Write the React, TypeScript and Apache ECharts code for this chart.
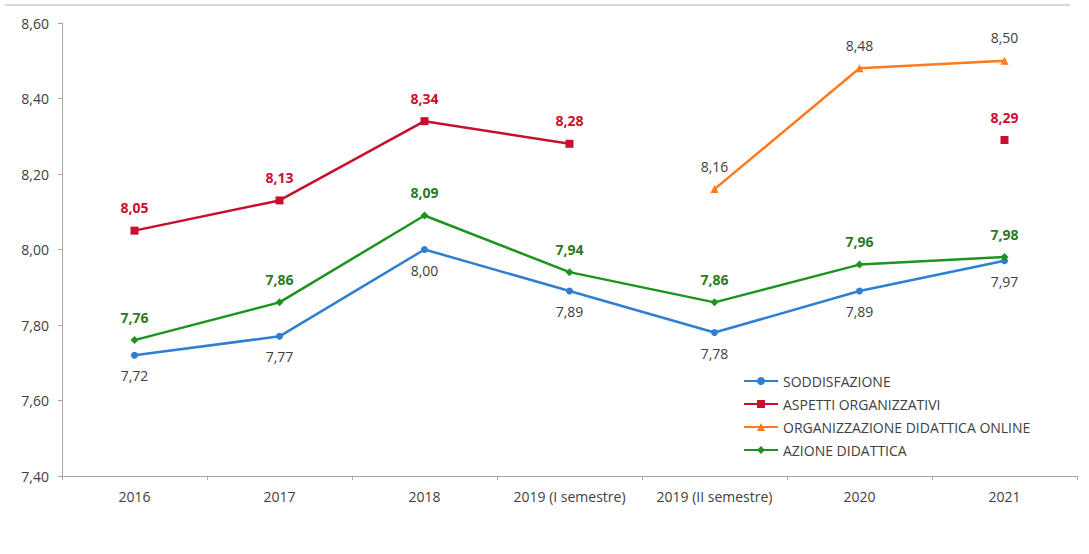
import React, { useEffect, useRef } from "react";
import * as echarts from "echarts";

const categories = ["2016", "2017", "2018", "2019 (I semestre)", "2019 (II semestre)", "2020", "2021"];
const soddisfazione = [7.72, 7.77, 8.0, 7.89, 7.78, 7.89, 7.97];
const aspettiOrganizzativi = [8.05, 8.13, 8.34, 8.28, null, null, 8.29];
const organizzazioneOnline = [null, null, null, null, 8.16, 8.48, 8.5];
const azioneDidattica = [7.76, 7.86, 8.09, 7.94, 7.86, 7.96, 7.98];
const yTicks = { min: 7.4, max: 8.6, interval: 0.2 };

const FONT = "'Open Sans', 'Noto Sans', sans-serif";
const fmt = (v: number) => v.toFixed(2).replace(".", ",");

export default function App() {
  const ref = useRef<HTMLDivElement>(null);
  useEffect(() => {
    if (!ref.current) return;
    const chart = echarts.init(ref.current, undefined, { renderer: "svg" });
    const labelFmt = (p: any) => fmt(p.value as number);
    chart.setOption({
      animation: false,
      backgroundColor: "#ffffff",
      textStyle: { fontFamily: FONT },
      grid: { left: 62, right: 12, top: 23, bottom: 78 },
      graphic: [
        { type: "line", shape: { x1: 5, y1: 5, x2: 1070, y2: 5 }, style: { stroke: "#d9d9d9", lineWidth: 2 } },
      ],
      legend: {
        orient: "vertical",
        left: 738,
        top: 369,
        itemGap: 9,
        itemWidth: 34,
        itemHeight: 10,
        textStyle: { color: "#404040", fontSize: 14, fontFamily: FONT },
        data: ["SODDISFAZIONE", "ASPETTI ORGANIZZATIVI", "ORGANIZZAZIONE DIDATTICA ONLINE", "AZIONE DIDATTICA"],
      },
      xAxis: {
        type: "category",
        data: categories,
        boundaryGap: true,
        axisLine: { lineStyle: { color: "#a6a6a6" } },
        axisTick: { show: true, length: 4, lineStyle: { color: "#a6a6a6" } },
        axisLabel: { color: "#404040", fontSize: 14, margin: 13, interval: 0, hideOverlap: false, fontFamily: FONT },
      },
      yAxis: {
        type: "value",
        min: yTicks.min,
        max: yTicks.max,
        interval: yTicks.interval,
        axisLine: { show: true, lineStyle: { color: "#a6a6a6" } },
        axisTick: { show: true, length: 4, lineStyle: { color: "#a6a6a6" } },
        splitLine: { show: false },
        axisLabel: { color: "#404040", fontSize: 14, margin: 13, fontFamily: FONT, formatter: (v: number) => fmt(v) },
      },
      series: [
        {
          name: "SODDISFAZIONE",
          type: "line",
          data: soddisfazione,
          color: "#2e7fd1",
          lineStyle: { width: 2.5 },
          symbol: "circle",
          symbolSize: 7,
          label: { show: true, position: "bottom", distance: 10, color: "#404040", fontSize: 14, formatter: labelFmt },
        },
        {
          name: "ASPETTI ORGANIZZATIVI",
          type: "line",
          data: aspettiOrganizzativi,
          color: "#c8102e",
          lineStyle: { width: 2.5 },
          symbol: "rect",
          symbolSize: 8,
          connectNulls: false,
          label: { show: true, position: "top", distance: 12, color: "#c8102e", fontWeight: "bold", fontSize: 14, formatter: labelFmt },
        },
        {
          name: "ORGANIZZAZIONE DIDATTICA ONLINE",
          type: "line",
          data: organizzazioneOnline,
          color: "#ff7a1f",
          lineStyle: { width: 2.5 },
          symbol: "triangle",
          symbolSize: 8,
          label: { show: true, position: "top", distance: 12, color: "#404040", fontSize: 14, formatter: labelFmt },
        },
        {
          name: "AZIONE DIDATTICA",
          type: "line",
          data: azioneDidattica,
          color: "#1e9420",
          lineStyle: { width: 2.5 },
          symbol: "diamond",
          symbolSize: 8,
          label: { show: true, position: "top", distance: 12, color: "#2c7a22", fontWeight: "bold", fontSize: 14, formatter: labelFmt },
        },
      ],
    });
    return () => chart.dispose();
  }, []);
  return <div ref={ref} style={{ width: 1089, height: 554, position: "absolute", left: 0, top: 0 }} />;
}
